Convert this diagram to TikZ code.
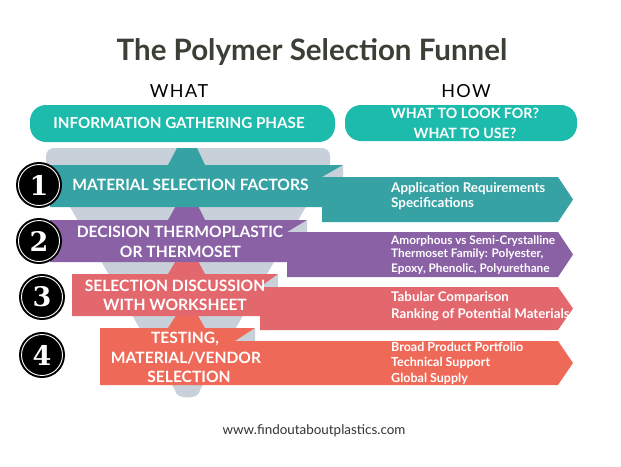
\documentclass[tikz,border=0pt]{standalone}
\usepackage{fontspec}
\setmainfont{Lato}
\newfontfamily\digitfont{DejaVu Serif}
\definecolor{titlec}{HTML}{3A4035}
\definecolor{pillc}{HTML}{1DBBAB}
\definecolor{tealc}{HTML}{37A2A4}
\definecolor{purplec}{HTML}{8B61A5}
\definecolor{coralc}{HTML}{E3686E}
\definecolor{orangec}{HTML}{EF6958}
\definecolor{grayc}{HTML}{C8D0D9}
\tikzset{
  pill/.style={fill=pillc, rounded corners=16pt},
  pilltext/.style={text=white, font=\fontsize{15.2}{17}\selectfont\bfseries, align=center, inner sep=0pt},
  bandtext/.style={text=white, font=\fontsize{15.6}{20}\selectfont\bfseries, anchor=base, inner sep=0pt},
  sidetext/.style={text=white, anchor=base west, inner sep=0pt},
  headtext/.style={anchor=base, inner sep=0pt, font=\fontsize{18}{18}\selectfont\addfontfeature{LetterSpace=8}},
  numdisc/.style={circle, fill=black, minimum size=46pt, inner sep=0pt, text=white, font=\fontsize{27}{27}\selectfont\digitfont\bfseries},
}
\begin{document}
\begin{tikzpicture}[x=1pt,y=-1pt]
\useasboundingbox (0,0) rectangle (621,466);
\fill[white] (0,0) rectangle (621,466);

% title and headings
\node[anchor=base, text=titlec, inner sep=0pt, font=\fontsize{29.5}{29.5}\selectfont\bfseries] (title) at (312,60) {The Polymer Selection Funnel};
\node[headtext] (what) at (179,97) {WHAT};
\node[headtext] (how) at (466,97) {HOW};

% pills
\fill[pill] (30,105) rectangle (335,142);
\node[pilltext] (info) at (179,123) {INFORMATION GATHERING PHASE};
\fill[pill] (345,105) rectangle (577,141);
\node[pilltext, font=\fontsize{14.2}{20}\selectfont\bfseries] (look) at (465,123.5) {WHAT TO LOOK FOR?\\WHAT TO USE?};

% funnel
\fill[grayc] (46,165) -- (46,156) arc[start angle=180, end angle=270, radius=8] -- (322,148)
  arc[start angle=-90, end angle=0, radius=8] -- (330,165) -- (200,390)
  .. controls (200,400) and (175,400) .. (175,390) -- cycle;

% band 4
\fill[grayc] (255,328) -- (255,341) -- (235,341) -- cycle;
\fill[orangec] (100,328) -- (168,328) -- (177,314) -- (197,314) -- (205,328) -- (255,328) -- (235,341)
  -- (558,341) -- (573,363) -- (558,385) -- (100,385) -- cycle;
% band 3
\fill[grayc] (278,274) -- (278,287) -- (260,287) -- cycle;
\fill[coralc] (72,274) -- (168,274) -- (177,259) -- (197,259) -- (205,274) -- (278,274) -- (260,287)
  -- (558,287) -- (573,308.5) -- (558,330) -- (260,330) -- (260,316) -- (72,316) -- cycle;
% band 2
\fill[grayc] (307,220) -- (307,232) -- (287,232) -- cycle;
\fill[purplec] (50,220) -- (168,220) -- (177,204) -- (197,204) -- (205,220) -- (307,220) -- (287,232)
  -- (558,232) -- (573,254.5) -- (558,277) -- (287,277) -- (287,262) -- (50,262) -- cycle;
% band 1
\fill[grayc] (343,165) -- (343,177) -- (322,177) -- cycle;
\fill[tealc] (50,165) -- (168,165) -- (177,148) -- (197,148) -- (205,165) -- (343,165) -- (322,177)
  -- (558,177) -- (573,199.5) -- (558,222) -- (322,222) -- (322,207) -- (50,207) -- cycle;

% band texts
\node[bandtext] (t1) at (190.5,190.8) {MATERIAL SELECTION FACTORS};
\node[bandtext] (t2a) at (180,237.2) {DECISION THERMOPLASTIC};
\node[bandtext] (t2b) at (180.5,257.2) {OR THERMOSET};
\node[bandtext] (t3a) at (175,291.2) {SELECTION DISCUSSION};
\node[bandtext] (t3b) at (175,310.7) {WITH WORKSHEET};
\node[bandtext] (t4a) at (185,343.2) {TESTING,};
\node[bandtext] (t4b) at (186,363.7) {MATERIAL/VENDOR};
\node[bandtext] (t4c) at (189,382.7) {SELECTION};

% side texts
\node[sidetext, font=\fontsize{13.4}{15}\selectfont\bfseries] (s1a) at (391,192.5) {Application Requirements};
\node[sidetext, font=\fontsize{13.4}{15}\selectfont\bfseries] (s1b) at (391,207.5) {Specifications};
\node[sidetext, font=\fontsize{11.8}{14}\selectfont\bfseries] (s2a) at (391,244) {Amorphous vs Semi-Crystalline};
\node[sidetext, font=\fontsize{11.8}{14}\selectfont\bfseries] (s2b) at (391,257.5) {Thermoset Family: Polyester,};
\node[sidetext, font=\fontsize{11.8}{14}\selectfont\bfseries] (s2c) at (391,272) {Epoxy, Phenolic, Polyurethane};
\node[sidetext, font=\fontsize{13.3}{15}\selectfont\bfseries] (s3a) at (391,301.5) {Tabular Comparison};
\node[sidetext, font=\fontsize{13.3}{15}\selectfont\bfseries] (s3b) at (391,318) {Ranking of Potential Materials};
\node[sidetext, font=\fontsize{12.5}{15}\selectfont\bfseries] (s4a) at (391,351) {Broad Product Portfolio};
\node[sidetext, font=\fontsize{12.5}{15}\selectfont\bfseries] (s4b) at (391,366) {Technical Support};
\node[sidetext, font=\fontsize{12.5}{15}\selectfont\bfseries] (s4c) at (391,382.5) {Global Supply};

% number discs
\foreach \n/\cy/\cx in {1/185/39, 2/241/39, 3/297/42, 4/355/42} {
  \node[numdisc] (n\n) at (\cx,\cy) {\n};
  \draw[white, line width=0.9pt] (n\n.center) circle[radius=20.5];
}

% footer
\node[anchor=base, inner sep=0pt, text=black!80, font=\fontsize{13.4}{13.4}\selectfont] (url) at (314,434) {www.findoutaboutplastics.com};
\end{tikzpicture}
\end{document}
